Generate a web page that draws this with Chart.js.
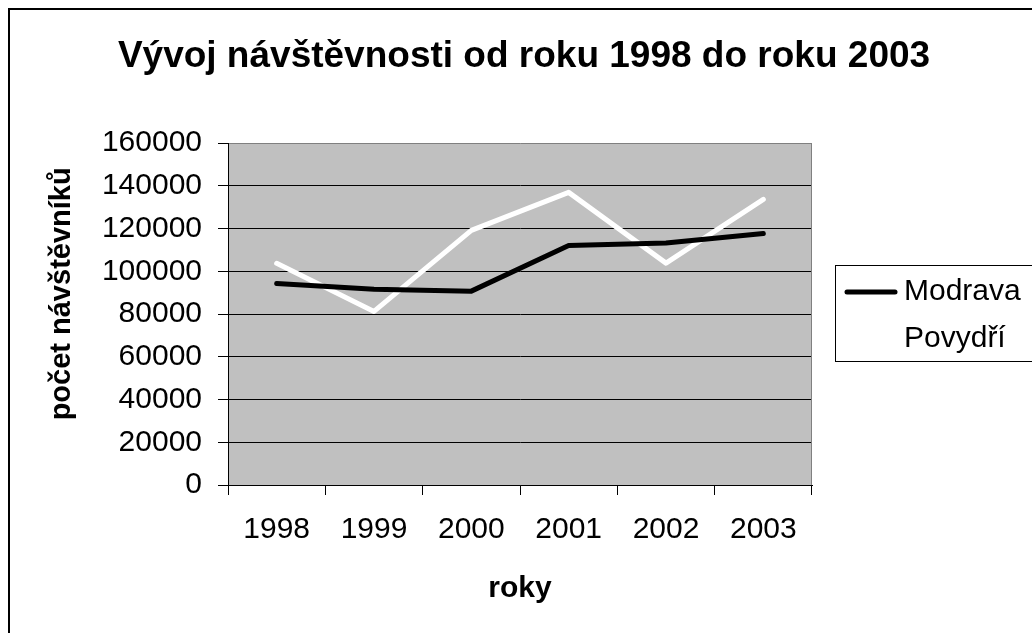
<!DOCTYPE html>
<html>
<head>
<meta charset="utf-8">
<script src="https://cdn.jsdelivr.net/npm/chart.js@4/dist/chart.umd.min.js"></script>
<style>
  body { margin: 0; background: #fff; }
  canvas { display: block; }
</style>
</head>
<body>
<canvas id="myChart" width="1032" height="633"></canvas>
<script>
// data
var years = ["1998", "1999", "2000", "2001", "2002", "2003"];
var modrava = [94300, 91600, 90700, 112000, 113200, 117700];
var povydri = [103700, 81200, 119100, 136900, 103800, 133600];
var yMin = 0;
var yMax = 160000;
var yStep = 20000;

var chartTitle = "Vývoj návštěvnosti od roku 1998 do roku 2003";
var xTitle = "roky";
var yTitle = "počet návštěvníků";

Chart.defaults.font.family = "Arial, 'Liberation Sans', sans-serif";
Chart.defaults.color = "#000";

// gray plot background + gray right edge
const plotBg = {
  id: "plotBg",
  beforeDraw(chart) {
    const ctx = chart.ctx;
    const a = chart.chartArea;
    ctx.save();
    ctx.fillStyle = "#fff";
    ctx.fillRect(0, 0, chart.width, chart.height);
    ctx.fillStyle = "#C0C0C0";
    ctx.fillRect(a.left, a.top, a.right - a.left, a.bottom - a.top);
    ctx.restore();
  },
  beforeDatasetsDraw(chart) {
    const ctx = chart.ctx;
    const a = chart.chartArea;
    ctx.save();
    ctx.strokeStyle = "#808080";
    ctx.lineWidth = 1;
    ctx.beginPath();
    ctx.moveTo(Math.round(a.right) - 0.5, a.top);
    ctx.lineTo(Math.round(a.right) - 0.5, a.bottom);
    ctx.stroke();
    ctx.restore();
  }
};

// boxed legend on the right
const legendBox = {
  id: "legendBox",
  afterDraw(chart) {
    const ctx = chart.ctx;
    ctx.save();
    ctx.strokeStyle = "#000";
    ctx.lineWidth = 1;
    ctx.strokeRect(835.5, 265.5, 300, 96);
    chart.data.datasets.forEach((ds, i) => {
      const y = 292 + i * 47;
      ctx.beginPath();
      ctx.moveTo(847, y);
      ctx.lineTo(895, y);
      ctx.strokeStyle = ds.borderColor;
      ctx.lineWidth = 5;
      ctx.lineCap = "round";
      ctx.stroke();
      ctx.fillStyle = "#000";
      ctx.font = "30px Arial, 'Liberation Sans', sans-serif";
      ctx.textBaseline = "middle";
      ctx.fillText(ds.label, 904, y);
    });
    ctx.restore();
  }
};

// outer frame of the chart object
const frame = {
  id: "frame",
  afterDraw(chart) {
    const ctx = chart.ctx;
    ctx.save();
    ctx.strokeStyle = "#000";
    ctx.lineWidth = 2;
    ctx.strokeRect(9, 9, 1200, 1200);
    ctx.restore();
  }
};

var ctx = document.getElementById("myChart").getContext("2d");
new Chart(ctx, {
  type: "line",
  data: {
    labels: years,
    datasets: [
      {
        label: "Modrava",
        data: modrava,
        borderColor: "#000",
        borderWidth: 5,
        pointRadius: 0,
        tension: 0,
        borderCapStyle: "round",
        borderJoinStyle: "round"
      },
      {
        label: "Povydří",
        data: povydri,
        borderColor: "#fff",
        borderWidth: 5,
        pointRadius: 0,
        tension: 0,
        borderCapStyle: "round",
        borderJoinStyle: "round"
      }
    ]
  },
  options: {
    responsive: false,
    animation: false,
    layout: { padding: { left: 16, right: 0, top: 0, bottom: 0 } },
    plugins: {
      legend: { display: false },
      tooltip: { enabled: false },
      title: {
        display: true,
        text: chartTitle,
        color: "#000",
        font: { size: 37, weight: "bold", lineHeight: 1.2 },
        padding: { top: 35, bottom: 63.6 }
      }
    },
    scales: {
      x: {
        offset: true,
        grid: { offset: true, drawOnChartArea: false, color: "#000", tickLength: 10 },
        border: { color: "#000", width: 1 },
        ticks: { color: "#000", font: { size: 30 }, padding: 17, maxRotation: 0 },
        title: {
          display: true,
          text: xTitle,
          color: "#000",
          font: { size: 30, weight: "bold", lineHeight: 1.2 },
          padding: { top: 0, bottom: 26 }
        },
        afterFit: function (s) { s.height = 148; }
      },
      y: {
        min: yMin,
        max: yMax,
        ticks: {
          stepSize: yStep,
          color: "#000",
          font: { size: 30 },
          padding: 16,
          callback: function (v) { return String(v); }
        },
        grid: {
          color: function (c) { return c.tick && c.tick.value === yMax ? "#808080" : "#000"; },
          tickColor: "#000",
          tickLength: 10
        },
        border: { color: "#000", width: 1 },
        title: {
          display: true,
          text: "     " + yTitle,
          color: "#000",
          font: { size: 29, weight: "bold", lineHeight: 1.2 },
          padding: { top: 29, bottom: 0 }
        },
        afterFit: function (s) { s.width = 212; }
      },
      spacer: {
        type: "linear",
        position: "right",
        display: true,
        grid: { display: false },
        ticks: { display: false },
        border: { display: false },
        afterFit: function (s) { s.width = 220; }
      }
    }
  },
  plugins: [plotBg, legendBox, frame]
});
</script>
</body>
</html>
